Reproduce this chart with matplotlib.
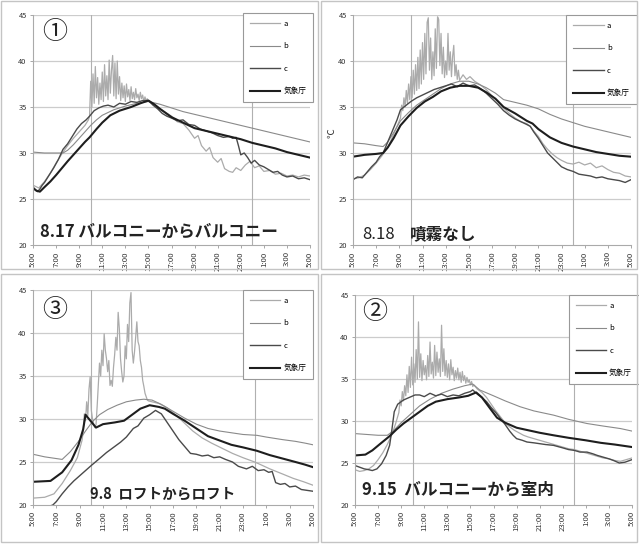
import numpy as np
import matplotlib
matplotlib.use("Agg")
import matplotlib.pyplot as plt
from matplotlib.patches import Rectangle

plt.rcParams['font.family'] = ['Noto Sans CJK JP', 'DejaVu Sans']

# ---------------- shared axis data ----------------
hour_ticks = [0, 2, 4, 6, 8, 10, 12, 14, 16, 18, 20, 22, 24]   # hours after 5:00
hour_labels = ["5:00", "7:00", "9:00", "11:00", "13:00", "15:00", "17:00",
               "19:00", "21:00", "23:00", "1:00", "3:00", "5:00"]
y_ticks = [20, 25, 30, 35, 40, 45]
marker_hours = [5, 19]          # 10:00 and 0:00 reference lines
series_names = ["a", "b", "c", "気象庁"]

# ---------------- panel 1 : 8.17 ----------------
p1_a_t = ([0, 0.5, 1.0, 1.5, 2.0, 2.5, 3.0, 3.5, 4.0, 4.5, 4.8]
          + list(np.round(np.arange(4.9, 10.01, 0.1), 1))
          + [10.5, 11, 11.5, 12, 12.5, 13, 13.5, 14, 14.3, 14.6, 15, 15.3, 15.6, 16, 16.3,
             16.6, 17, 17.3, 17.6, 18, 18.4, 18.8, 19.2, 19.6, 20, 20.5, 21, 21.5, 22,
             22.5, 23, 23.5, 24])
p1_a_v = ([26.5, 26.2, 26.9, 27.8, 28.9, 29.9, 30.8, 31.6, 32.3, 33.0, 33.6]
          + [34.0, 37.8, 35.0, 38.6, 35.4, 39.4, 36.0, 38.2, 35.3, 37.6, 35.8, 38.8, 35.6,
             39.6, 36.2, 38.4, 35.8, 40.1, 36.5, 39.0, 40.6, 36.2, 39.8, 35.9, 40.0, 36.4,
             38.3, 35.7, 37.6, 36.0, 37.3, 35.6, 37.5, 36.1, 36.9, 35.7, 37.2, 35.9, 36.6,
             35.8, 37.0, 36.0, 36.4, 35.7, 36.6, 35.9, 36.3, 35.6, 36.1, 35.7, 35.9, 35.6]
          + [35.3, 34.8, 34.4, 34.0, 33.4, 33.2, 32.5, 31.6, 31.9, 30.8, 30.2, 30.6, 29.5,
             29.0, 29.4, 28.3, 28.0, 27.9, 28.4, 28.1, 28.7, 29.1, 28.4, 28.6, 28.0, 28.1,
             27.7, 27.8, 27.5, 27.6, 27.4, 27.6, 27.5])
p1_b_t = [0, 1, 2, 2.6, 3.0, 3.5, 4, 4.5, 5, 5.5, 6, 7, 8, 9, 10, 11, 12, 13, 14, 15, 16,
          17, 18, 19, 20, 21, 22, 23, 24]
p1_b_v = [30.1, 30.0, 30.0, 30.0, 30.3, 30.9, 31.6, 32.3, 33.0, 33.6, 34.1, 34.7, 35.1,
          35.4, 35.6, 35.3, 34.9, 34.5, 34.2, 33.9, 33.6, 33.3, 33.0, 32.7, 32.4, 32.1,
          31.8, 31.5, 31.2]
p1_c_t = [0, 0.2, 0.4, 0.6, 0.8, 1.0, 1.4, 1.8, 2.2, 2.6, 3.0, 3.4, 3.8, 4.2, 4.6, 4.9,
          5.3, 5.7, 6.1, 6.5, 7.0, 7.5, 8.0, 8.5, 9.0, 9.5, 10.0, 10.4, 10.8, 11.2, 11.6,
          12.0, 12.5, 13.0, 13.5, 14.0, 14.5, 15.0, 15.5, 16.0, 16.5, 17.0, 17.3, 17.6,
          17.8, 18.0, 18.3, 18.6, 18.9, 19.2, 19.6, 20.0, 20.4, 20.8, 21.2, 21.6, 22.0,
          22.5, 23.0, 23.5, 24.0]
p1_c_v = [26.3, 26.0, 25.8, 26.1, 26.5, 26.8, 27.6, 28.4, 29.3, 30.4, 31.0, 31.8, 32.6,
          33.2, 33.6, 34.0, 34.6, 34.9, 35.1, 35.2, 35.0, 35.4, 35.3, 35.6, 35.5, 35.7,
          35.7, 35.2, 34.8, 34.3, 34.0, 33.8, 33.5, 33.6, 33.1, 33.0, 32.6, 32.4, 32.2,
          31.9, 31.7, 31.8, 31.6, 31.7, 30.8, 29.8, 30.0, 29.5, 28.9, 29.2, 28.7, 28.5,
          28.2, 27.9, 28.0, 27.6, 27.4, 27.5, 27.2, 27.3, 27.1]
p1_k_t = [0, 0.3, 0.6, 1, 1.5, 2, 2.6, 3, 3.5, 4, 4.5, 4.9, 5.5, 6, 6.7, 7.5, 8.5, 9.3, 10,
          10.5, 11, 12, 13, 14, 15, 16, 17, 18, 19, 20, 21, 22, 23, 24]
p1_k_v = [26.2, 25.9, 25.8, 26.3, 26.9, 27.6, 28.5, 29.1, 29.8, 30.5, 31.2, 31.7, 32.6,
          33.3, 34.1, 34.6, 35.0, 35.4, 35.7, 35.3, 34.8, 33.9, 33.3, 32.7, 32.4, 32.1,
          31.8, 31.5, 31.1, 30.8, 30.5, 30.1, 29.8, 29.5]

# ---------------- panel 2 : 8.18 ----------------
p2_a_t = ([0, 0.5, 1.0, 1.5, 2.0, 2.5, 3.0, 3.5, 4.0]
          + list(np.round(np.arange(4.1, 9.21, 0.1), 1))
          + [9.5, 9.8, 10.1, 10.5, 11, 11.5, 12, 12.5, 13, 13.5, 14, 14.5, 15, 15.3, 15.6,
             16, 16.4, 16.8, 17.2, 17.6, 18, 18.5, 19, 19.5, 20, 20.5, 21, 21.5, 22, 22.5,
             23, 23.5, 24])
p2_a_v = ([27.2, 27.3, 27.6, 28.2, 28.9, 29.7, 30.6, 32.0, 33.5]
          + [33.8, 35.2, 34.6, 36.0, 35.0, 36.8, 35.4, 37.5, 35.8, 38.3, 36.0, 39.0, 36.4,
             39.6, 36.8, 40.4, 37.0, 41.2, 37.5, 42.0, 38.0, 43.0, 38.6, 44.2, 44.7, 39.0,
             42.5, 38.0, 41.0, 38.4, 43.5, 39.2, 44.8, 44.5, 39.5, 43.0, 38.6, 41.5, 38.2,
             40.0, 38.5, 43.0, 39.0, 41.0, 38.3, 40.5, 41.7, 38.4, 39.6, 38.0, 39.0, 37.9]
          + [38.5, 38.0, 38.3, 37.8, 37.4, 36.9, 36.2, 35.6, 34.9, 34.3, 33.8, 33.4, 33.2,
             32.9, 32.4, 31.8, 31.0, 30.4, 29.9, 29.5, 29.2, 28.9, 28.8, 29.0, 28.7, 28.9,
             28.4, 28.6, 28.2, 27.9, 27.8, 27.5, 27.4])
p2_b_t = [0, 1, 2, 2.6, 3.0, 3.5, 4.1, 4.8, 5.5, 6.2, 6.9, 7.6, 8.4, 9.2, 10, 10.8, 11.5,
          12.3, 13, 14, 15, 16, 17, 18, 19, 20, 21, 22, 23, 24]
p2_b_v = [31.1, 31.0, 30.8, 30.7, 31.2, 32.2, 33.5, 34.4, 35.2, 35.8, 36.4, 37.0, 37.5,
          37.8, 37.8, 37.5, 37.1, 36.5, 35.8, 35.5, 35.2, 34.8, 34.2, 33.7, 33.3, 32.9,
          32.6, 32.3, 32.0, 31.7]
p2_c_t = [0, 0.4, 0.8, 1.2, 1.6, 2.0, 2.3, 2.6, 3.0, 3.4, 3.8, 4.1, 4.5, 5.0, 5.5, 6.0,
          6.5, 7.0, 7.5, 8.0, 8.5, 9.0, 9.5, 10.0, 10.5, 11.0, 11.5, 12.0, 12.5, 13.0,
          13.5, 14.0, 14.5, 15.0, 15.3, 15.6, 16.0, 16.4, 16.8, 17.2, 17.6, 18.0, 18.5,
          19.0, 19.5, 20.0, 20.5, 21.0, 21.5, 22.0, 22.5, 23.0, 23.5, 24.0]
p2_c_v = [27.1, 27.4, 27.3, 27.9, 28.5, 29.0, 29.6, 30.0, 31.2, 32.4, 33.6, 34.7, 35.1,
          35.6, 36.0, 36.3, 36.6, 36.9, 37.1, 37.3, 37.5, 37.2, 37.6, 37.3, 37.4, 37.0,
          36.5, 35.9, 35.3, 34.6, 34.1, 33.7, 33.4, 33.1, 32.9, 32.3, 31.6, 30.8, 30.0,
          29.5, 29.0, 28.5, 28.2, 28.0, 27.7, 27.6, 27.5, 27.3, 27.4, 27.2, 27.1, 27.0,
          26.8, 27.1]
p2_k_t = [0, 1, 2, 2.6, 3.0, 3.5, 4.1, 4.8, 5.5, 6.2, 6.9, 7.6, 8.4, 9.2, 10, 10.8, 11.5,
          12.3, 13, 14, 15, 15.5, 16, 17, 18, 19, 20, 21, 22, 23, 24]
p2_k_v = [29.6, 29.8, 29.9, 30.0, 30.6, 31.6, 33.0, 34.0, 34.9, 35.6, 36.1, 36.7, 37.1,
          37.3, 37.3, 37.1, 36.6, 35.9, 35.0, 34.3, 33.5, 33.2, 32.6, 31.7, 31.1, 30.7,
          30.4, 30.1, 29.9, 29.7, 29.6]

# ---------------- panel 3 : 9.8 ----------------
p3_a_t = ([0, 1.0, 1.8, 2.5, 3.2, 3.8, 4.2]
          + list(np.round(np.arange(4.3, 9.91, 0.1), 1))
          + [10.2, 10.8, 11.5, 12.3, 13, 13.7, 14.5, 15.3, 16.2, 17.1, 18, 19, 19.5, 20.3,
             21.4, 22.3, 23.2, 24])
p3_a_v = ([20.8, 20.9, 21.3, 22.5, 24.0, 25.5, 27.5]
          + [28.5, 30.6, 29.8, 32.0, 30.4, 33.5, 34.9, 31.0, 30.0, 29.4, 29.0, 29.3, 31.5,
             34.0, 36.5, 35.0, 38.0, 36.2, 39.9, 38.0, 37.0, 35.5, 36.8, 33.9, 34.5, 33.8,
             36.0, 37.5, 39.5, 38.0, 42.4, 40.5, 37.0, 35.5, 34.3, 35.0, 38.5, 37.0, 41.0,
             39.0, 43.5, 44.7, 38.0, 36.5, 37.8, 39.5, 41.3, 39.0, 38.5, 36.8, 36.0, 34.5,
             33.8, 33.0, 32.6, 32.2, 32.1]
          + [32.0, 31.8, 31.3, 30.4, 29.5, 28.6, 27.8, 27.2, 26.6, 26.0, 25.5, 25.0, 24.7,
             24.2, 23.6, 23.1, 22.7, 22.3])
p3_b_t = [0, 1, 2, 2.5, 3.2, 3.9, 4.5, 5.1, 5.7, 6.4, 7.2, 8.0, 8.8, 9.5, 10.2, 11.0,
          11.5, 12.0, 13.0, 14.0, 15.0, 16.0, 17.0, 18.0, 19.2, 20.0, 21.4, 22.5, 23.3, 24.0]
p3_b_v = [25.9, 25.6, 25.4, 25.3, 26.2, 27.4, 28.6, 29.7, 30.5, 31.1, 31.6, 32.0, 32.2,
          32.3, 32.2, 31.7, 31.3, 30.9, 30.1, 29.4, 28.9, 28.6, 28.4, 28.2, 28.1, 27.9,
          27.6, 27.4, 27.2, 27.0]
p3_c_t = [0, 0.5, 1.0, 1.5, 1.7, 2.0, 2.5, 3.0, 3.5, 4.0, 4.5, 5.0, 5.7, 6.3, 7.0, 7.5,
          8.0, 8.6, 9.0, 9.5, 10.0, 10.5, 11.0, 11.5, 12.0, 12.5, 13.0, 13.5, 14.0, 14.5,
          15.0, 15.5, 16.0, 16.5, 17.1, 17.6, 18.3, 18.8, 19.3, 19.8, 20.2, 20.5, 20.8,
          21.2, 21.6, 22.0, 22.5, 23.0, 23.5, 24.0]
p3_c_v = [19.6, 19.6, 19.7, 19.9, 20.0, 20.4, 21.3, 22.1, 22.8, 23.4, 24.0, 24.6, 25.4,
          26.1, 26.8, 27.3, 27.9, 28.9, 29.2, 30.1, 30.5, 31.0, 30.6, 29.6, 28.6, 27.6,
          26.8, 26.0, 25.9, 25.7, 25.8, 25.5, 25.6, 25.3, 25.0, 24.5, 24.2, 24.5, 24.0,
          24.1, 23.8, 23.9, 22.6, 22.4, 22.5, 22.1, 22.2, 21.8, 21.7, 21.6]
p3_k_t = [0, 1.5, 2.5, 3.3, 3.9, 4.3, 4.5, 4.8, 5.4, 6, 7, 7.8, 8.5, 9.2, 10, 10.8, 11.3,
          12, 13, 14, 15, 16, 17, 18, 19.2, 20.3, 21.4, 22.5, 23.3, 24]
p3_k_v = [22.7, 22.8, 23.8, 25.2, 27.0, 28.8, 30.5, 30.0, 29.0, 29.4, 29.6, 29.8, 30.5,
          31.2, 31.6, 31.4, 31.2, 30.6, 29.8, 28.9, 28.0, 27.5, 27.0, 26.7, 26.3, 25.8,
          25.4, 25.0, 24.7, 24.4]

# ---------------- panel 4 : 9.15 ----------------
p4_a_t = ([0, 0.4, 0.8, 1.2, 1.6, 2.0, 2.4, 2.8, 3.2, 3.5]
          + list(np.round(np.arange(3.8, 10.31, 0.1), 1))
          + [10.6, 11, 11.4, 11.8, 12.2, 12.6, 13, 13.4, 13.8, 14.2, 14.6, 15, 15.5, 16,
             16.5, 17, 17.5, 18, 18.5, 19, 19.5, 20, 20.5, 21, 21.5, 22, 22.5, 23, 23.5, 24])
p4_a_v = ([24.2, 24.0, 24.1, 24.3, 24.7, 25.4, 26.2, 27.2, 28.4, 29.6]
          + [31.0, 32.5, 31.8, 33.5, 32.4, 34.2, 33.0, 35.5, 33.4, 36.5, 34.0, 37.6, 34.3,
             36.8, 34.6, 38.5, 35.0, 41.8, 35.2, 38.0, 34.8, 37.2, 35.5, 36.6, 34.9, 37.8,
             35.3, 39.4, 35.6, 37.0, 35.1, 39.0, 35.4, 38.2, 35.8, 37.4, 35.3, 41.4, 35.9,
             38.6, 35.4, 37.2, 35.2, 36.8, 34.9, 37.3, 35.5, 36.4, 34.8, 36.0, 35.1, 36.3,
             34.9, 35.8, 34.6, 35.9, 34.8, 35.4, 34.5, 35.2, 34.6, 34.9, 34.3, 34.7, 34.1,
             34.3]
          + [33.8, 33.4, 32.8, 32.0, 31.2, 30.5, 29.8, 29.3, 28.9, 28.6, 28.3, 28.1, 27.9,
             27.7, 27.5, 27.3, 27.1, 26.9, 26.7, 26.6, 26.4, 26.2, 26.0, 25.8, 25.6, 25.5,
             25.3, 25.2, 25.4, 25.6])
p4_b_t = [0, 1, 2, 2.8, 3.3, 4.0, 4.8, 5.6, 6.5, 7.5, 8.5, 9.5, 10.2, 10.8, 12.0, 13.0,
          14.3, 15.5, 17.2, 18.5, 20.1, 21.5, 23.0, 24.0]
p4_b_v = [28.5, 28.4, 28.3, 28.3, 28.8, 29.8, 30.8, 31.8, 32.6, 33.3, 33.8, 34.2, 34.4,
          33.7, 33.0, 32.4, 31.7, 31.2, 30.7, 30.2, 29.7, 29.4, 29.1, 28.8]
p4_c_t = [0, 0.4, 0.8, 1.2, 1.5, 1.9, 2.3, 2.7, 3.0, 3.2, 3.4, 3.7, 4.2, 4.7, 5.2, 5.6,
          6.0, 6.5, 7.0, 7.5, 8.0, 8.5, 9.0, 9.5, 10.0, 10.2, 10.6, 11.0, 11.4, 11.8, 12.2,
          12.6, 13.0, 13.4, 13.7, 14.0, 14.5, 14.9, 15.5, 16.0, 16.5, 17.2, 18.0, 18.5,
          19.0, 19.5, 20.1, 20.6, 21.0, 21.5, 22.0, 22.4, 22.9, 23.4, 24.0]
p4_c_v = [24.7, 24.5, 24.3, 24.2, 24.1, 24.3, 24.9, 25.9, 27.1, 29.0, 31.1, 32.0, 32.5,
          32.8, 33.1, 33.1, 32.9, 33.3, 33.0, 33.2, 32.9, 33.1, 33.0, 33.3, 33.5, 33.7,
          33.2, 32.8, 32.3, 31.6, 31.0, 30.3, 29.6, 28.8, 28.3, 27.9, 27.7, 27.5, 27.4,
          27.3, 27.2, 27.1, 26.8, 26.6, 26.5, 26.3, 26.3, 26.1, 25.9, 25.7, 25.5, 25.3,
          25.0, 25.1, 25.4]
p4_k_t = [0, 0.9, 1.5, 2.2, 3.0, 3.6, 4.2, 4.8, 5.5, 6.3, 7.0, 8.0, 9.0, 9.8, 10.5, 11,
          11.7, 12.3, 13, 14, 15, 16, 17.2, 18.5, 20, 21.3, 22.5, 24]
p4_k_v = [25.9, 26.0, 26.5, 27.3, 28.2, 29.0, 29.7, 30.3, 31.0, 31.8, 32.3, 32.6, 32.8,
          33.0, 33.4, 32.8, 31.5, 30.4, 29.8, 29.2, 28.9, 28.6, 28.3, 28.0, 27.7, 27.4,
          27.2, 26.9]

panels = [
    dict(rect=(33, 310, 15, 245), data=[(p1_a_t, p1_a_v), (p1_b_t, p1_b_v), (p1_c_t, p1_c_v), (p1_k_t, p1_k_v)],
         titles=[("8.17 バルコニーからバルコニー", (0.025, 0.057), 12, "bold")],
         num="①", npos=(0.079, 0.926), leg=(1.011, 1.009)),
    dict(rect=(353, 631, 15, 245), data=[(p2_a_t, p2_a_v), (p2_b_t, p2_b_v), (p2_c_t, p2_c_v), (p2_k_t, p2_k_v)],
         titles=[("8.18", (0.032, 0.045), 12, "normal"), ("噴霧なし", (0.205, 0.045), 12, "bold")],
         num=None, npos=None, leg=(1.02, 1.0)),
    dict(rect=(33, 313, 290, 505), data=[(p3_a_t, p3_a_v), (p3_b_t, p3_b_v), (p3_c_t, p3_c_v), (p3_k_t, p3_k_v)],
         titles=[("9.8  ロフトからロフト", (0.204, 0.051), 10.5, "bold")],
         num="③", npos=(0.079, 0.907), leg=(1.0, 1.0)),
    dict(rect=(355, 632, 295, 505), data=[(p4_a_t, p4_a_v), (p4_b_t, p4_b_v), (p4_c_t, p4_c_v), (p4_k_t, p4_k_v)],
         titles=[("9.15  バルコニーから室内", (0.025, 0.071), 12, "bold")],
         num="②", npos=(0.072, 0.919), leg=(1.025, 1.0)),
]

styles = [dict(color="#ababab", lw=0.9),
          dict(color="#8a8a8a", lw=0.8),
          dict(color="#4a4a4a", lw=1.0),
          dict(color="#1e1e1e", lw=1.5)]

W, H = 639, 544
fig = plt.figure(figsize=(W / 100, H / 100), dpi=100)
fig.patch.set_facecolor("white")

# panel frames
for (x0, y0, x1, y1) in [(1, 1, 318, 269), (321, 1, 637, 269), (1, 274, 318, 542), (321, 274, 637, 542)]:
    fig.add_artist(Rectangle((x0 / W, 1 - y1 / H), (x1 - x0) / W, (y1 - y0) / H,
                             transform=fig.transFigure, fill=False, edgecolor="#c4c4c4", lw=1.0))

for p in panels:
    l, r, t, b = p["rect"]
    ax = fig.add_axes([l / W, 1 - b / H, (r - l) / W, (b - t) / H])
    for (tt, vv), st, name in zip(p["data"], styles, series_names):
        ax.plot(tt, vv, color=st["color"], lw=st["lw"], label=name)
    ax.set_xlim(0, 24)
    ax.set_ylim(20, 45)
    ax.set_xticks(hour_ticks)
    ax.set_xticklabels(hour_labels, rotation=90, fontsize=5.6, color="#333333")
    ax.set_yticks(y_ticks)
    ax.set_yticklabels([str(v) for v in y_ticks], fontsize=5.4, color="#333333")
    ax.tick_params(axis="both", length=2.5, width=0.6, color="#999999", pad=2)
    for yv in y_ticks[1:]:
        ax.axhline(yv, color="#cccccc", lw=0.9, zorder=0)
    for xv in marker_hours:
        ax.axvline(xv, color="#b0b0b0", lw=0.8, zorder=0)
    for s in ["top", "right"]:
        ax.spines[s].set_visible(False)
    for s in ["left", "bottom"]:
        ax.spines[s].set_color("#aaaaaa")
        ax.spines[s].set_linewidth(0.8)
    leg = ax.legend(loc="upper right", bbox_to_anchor=p["leg"], borderaxespad=0,
                    fontsize=5.5, handlelength=4.0, labelspacing=1.9, borderpad=0.9,
                    fancybox=False, framealpha=1, edgecolor="#999999", handletextpad=0.4)
    leg.get_frame().set_linewidth(0.8)
    for txt, pos, size, weight in p["titles"]:
        ax.text(pos[0], pos[1], txt, transform=ax.transAxes,
                fontsize=size, fontweight=weight, va="center", ha="left", color="#222222")
    if p["num"]:
        ax.text(p["npos"][0], p["npos"][1], p["num"], transform=ax.transAxes,
                fontsize=18, va="center", ha="center", color="#222222")

fig.text(332 / W, 1 - 133 / H, "℃", rotation=90, fontsize=7, ha="center", va="center", color="#333333")

fig.savefig("out.png", dpi=100, facecolor="white")
